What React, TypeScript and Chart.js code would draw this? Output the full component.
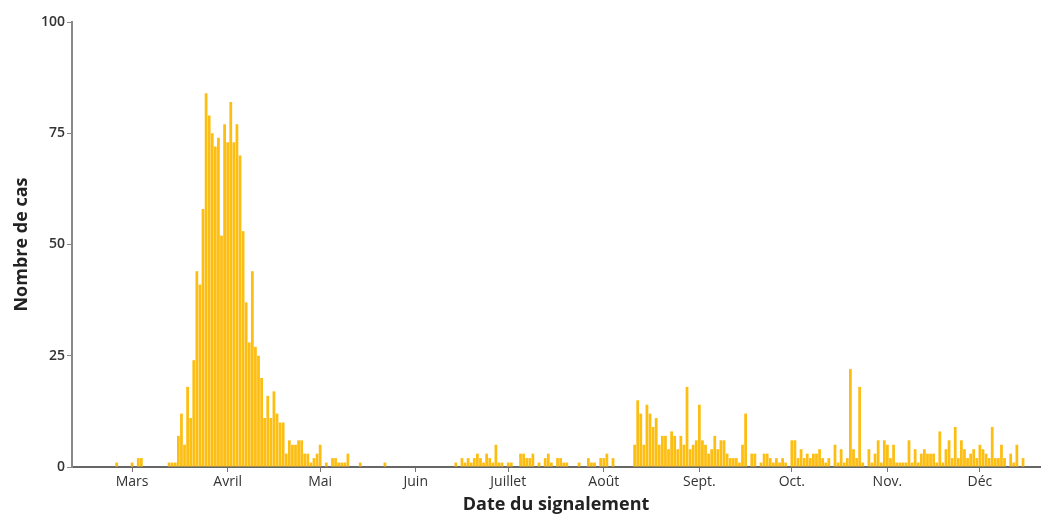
import { useEffect, useRef } from "react";
import { Chart, registerables } from "chart.js";

Chart.register(...registerables);

// Daily case counts, grouped by month (first block: end of February)
const fevrier = [0, 0, 0, 0, 0, 0, 0, 0, 0, 0, 0, 0, 0, 0, 1, 0, 0, 0, 0];
const mars = [1, 0, 2, 2, 0, 0, 0, 0, 0, 0, 0, 0, 1, 1, 1, 7, 12, 5, 18, 11, 24, 44, 41, 58, 84, 79, 75, 72, 74, 52, 77];
const avril = [73, 82, 73, 77, 70, 53, 37, 28, 44, 27, 25, 20, 11, 16, 11, 17, 12, 10, 10, 3, 6, 5, 5, 6, 6, 3, 3, 1, 2, 3];
const mai = [5, 0, 1, 0, 2, 2, 1, 1, 1, 3, 0, 0, 0, 1, 0, 0, 0, 0, 0, 0, 0, 1, 0, 0, 0, 0, 0, 0, 0, 0, 0];
const juin = [0, 0, 0, 0, 0, 0, 0, 0, 0, 0, 0, 0, 0, 1, 0, 2, 1, 2, 1, 2, 3, 2, 1, 3, 2, 1, 5, 1, 1, 0];
const juillet = [1, 1, 0, 0, 3, 3, 2, 2, 3, 0, 1, 0, 2, 3, 1, 0, 2, 2, 1, 1, 0, 0, 0, 1, 0, 0, 2, 1, 1, 0, 2];
const aout = [2, 3, 0, 2, 0, 0, 0, 0, 0, 0, 5, 15, 12, 5, 14, 12, 9, 11, 5, 7, 7, 4, 8, 7, 4, 7, 5, 18, 4, 5, 6];
const septembre = [14, 6, 5, 3, 4, 7, 4, 6, 6, 3, 2, 2, 2, 1, 5, 12, 0, 3, 3, 0, 1, 3, 3, 2, 1, 2, 1, 2, 1, 0];
const octobre = [6, 6, 2, 4, 2, 3, 2, 3, 3, 4, 2, 1, 2, 0, 5, 1, 4, 1, 2, 22, 4, 2, 18, 1, 0, 4, 1, 3, 6, 1, 6];
const novembre = [5, 2, 5, 1, 1, 1, 1, 6, 1, 4, 1, 3, 4, 3, 3, 3, 1, 8, 1, 4, 6, 2, 9, 2, 6, 4, 2, 3, 4, 2];
const decembre = [5, 4, 3, 2, 9, 2, 2, 5, 2, 0, 3, 1, 5, 0, 2, 0, 0, 0, 0, 0];

const monthNames = ["Mars", "Avril", "Mai", "Juin", "Juillet", "Août", "Sept.", "Oct.", "Nov.", "Déc"];
const yTicks = [0, 25, 50, 75, 100];

const FONT = "'Open Sans', 'DejaVu Sans', sans-serif";

export default function App() {
  const ref = useRef<HTMLCanvasElement>(null);

  useEffect(() => {
    const months = [mars, avril, mai, juin, juillet, aout, septembre, octobre, novembre, decembre];
    const values = [...fevrier, ...months.flat()];
    const tickMap = new Map<number, string>();
    let idx = fevrier.length;
    months.forEach((arr, k) => {
      tickMap.set(idx, monthNames[k]);
      idx += arr.length;
    });
    const labels = values.map((_, i) => String(i));

    const chart = new Chart(ref.current!, {
      type: "bar",
      data: {
        labels,
        datasets: [
          {
            data: values,
            backgroundColor: "#FDBE14",
            barPercentage: 0.9,
            categoryPercentage: 1,
          },
        ],
      },
      options: {
        animation: false,
        responsive: false,
        layout: { padding: { top: 22, right: 17, left: 0, bottom: 0 } },
        plugins: { legend: { display: false }, tooltip: { enabled: false } },
        scales: {
          x: {
            offset: true,
            grid: {
              display: true,
              drawOnChartArea: false,
              drawTicks: true,
              tickLength: 5,
              offset: false,
              color: "#777",
              lineWidth: 1,
            },
            border: { display: true, color: "#666", width: 2 },
            ticks: {
              autoSkip: false,
              maxRotation: 0,
              minRotation: 0,
              padding: 2,
              color: "#333",
              font: { family: FONT, size: 14 },
              callback: (_v: any, i: number) => tickMap.get(i) ?? null,
            },
            title: {
              display: true,
              text: "Date du signalement",
              color: "#222",
              font: { family: FONT, size: 18, weight: "bold" },
              padding: 0,
            },
            afterFit: (s: any) => {
              s.height = 49;
            },
          },
          y: {
            min: 0,
            max: 100,
            afterBuildTicks: (s: any) => {
              s.ticks = yTicks.map((v) => ({ value: v }));
            },
            grid: {
              display: true,
              drawOnChartArea: false,
              drawTicks: true,
              tickLength: 5,
              color: "#888",
            },
            border: { display: true, color: "#888", width: 2 },
            ticks: {
              padding: 2,
              color: "#333",
              font: { family: FONT, size: 14, weight: "600" },
            },
            title: {
              display: true,
              text: "Nombre de cas",
              color: "#222",
              font: { family: FONT, size: 18, weight: "bold" },
              padding: { top: 11, bottom: 0 },
            },
            afterFit: (s: any) => {
              s.width = 72;
            },
          },
        },
      },
    } as any);
    return () => chart.destroy();
  }, []);

  return (
    <div style={{ position: "absolute", left: 0, top: 0, width: 1057, height: 516, background: "#fff" }}>
      <canvas ref={ref} width={1057} height={516} style={{ display: "block" }} />
    </div>
  );
}
